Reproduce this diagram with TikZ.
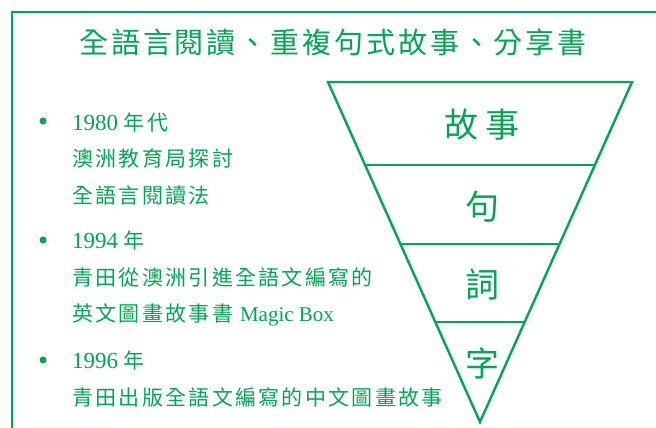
\documentclass[tikz,border=0pt]{standalone}
\usepackage{fontspec}
\setmainfont{Liberation Serif}
\newfontfamily\cjk{Noto Sans CJK TC}
\newfontfamily\cjksp[LetterSpace=11]{Noto Sans CJK TC}
\newfontfamily\cjkti[LetterSpace=10]{Noto Sans CJK TC}
\usetikzlibrary{calc}
\definecolor{grn}{RGB}{0,166,81}
\tikzset{
  frameline/.style={draw=grn, line width=2.2pt},
  triline/.style={draw=grn, line width=2.4pt},
  itemtext/.style={anchor=base west, inner sep=0pt, text=grn, font=\cjksp\fontsize{21}{24}\selectfont},
  yeartext/.style={anchor=base west, inner sep=0pt, text=grn, font=\rmfamily\fontsize{23}{27}\selectfont},
  bulletdot/.style={circle, fill=grn, inner sep=0pt, minimum size=7pt},
  titletext/.style={inner sep=0pt, text=grn, font=\cjkti\fontsize{29}{33}\selectfont},
  trilabel/.style={inner sep=0pt, text=grn, font=\cjk\fontsize{34}{38}\selectfont},
}
\begin{document}
\begin{tikzpicture}[x=1pt, y=-1pt]
\useasboundingbox (0,0) rectangle (656,428);
\clip (0,0) rectangle (656,428);
% frame (extends beyond the visible area)
\draw[frameline] (12,520) -- (12,12) -- (760,12);
% title
\node[titletext] (title) at (333,42) {全語言閱讀、重複句式故事、分享書};
% bullets
\node[bulletdot] (b1) at (43,121) {};
\node[bulletdot] (b2) at (43,240) {};
\node[bulletdot] (b3) at (43,360) {};
% item texts
\node[yeartext] (t1) at (72,130) {1980 {\cjksp\fontsize{21}{24}\selectfont 年代}};
\node[itemtext] (t2) at (72,166) {澳洲教育局探討};
\node[itemtext] (t3) at (72,203) {全語言閱讀法};
\node[yeartext] (t4) at (72,248) {1994 {\cjksp\fontsize{21}{24}\selectfont 年}};
\node[itemtext] (t5) at (72,285) {青田從澳洲引進全語文編寫的};
\node[itemtext] (t6) at (72,321) {英文圖畫故事書 {\rmfamily\fontsize{21}{24}\selectfont Magic Box}};
\node[yeartext] (t7) at (72,368) {1996 {\cjksp\fontsize{21}{24}\selectfont 年}};
\node[itemtext] (t8) at (72,405) {青田出版全語文編寫的中文圖畫故事};
% inverted triangle
\coordinate (A) at (328,82);
\coordinate (B) at (632,82);
\coordinate (C) at (480,422);
\draw[triline] (A) -- (B) -- (C) -- cycle;
\coordinate (L1) at ($(A)!0.2441!(C)$);
\coordinate (R1) at ($(B)!0.2441!(C)$);
\coordinate (L2) at ($(A)!0.4765!(C)$);
\coordinate (R2) at ($(B)!0.4765!(C)$);
\coordinate (L3) at ($(A)!0.7059!(C)$);
\coordinate (R3) at ($(B)!0.7059!(C)$);
\draw[triline] (L1) -- (R1);
\draw[triline] (L2) -- (R2);
\draw[triline] (L3) -- (R3);
% labels
\node[trilabel] (g1) at (482,125) {故\hspace{8pt}事};
\node[trilabel] (g2) at (482,207) {句};
\node[trilabel] (g3) at (482,285) {詞};
\node[trilabel] (g4) at (482,363) {字};
\end{tikzpicture}
\end{document}
